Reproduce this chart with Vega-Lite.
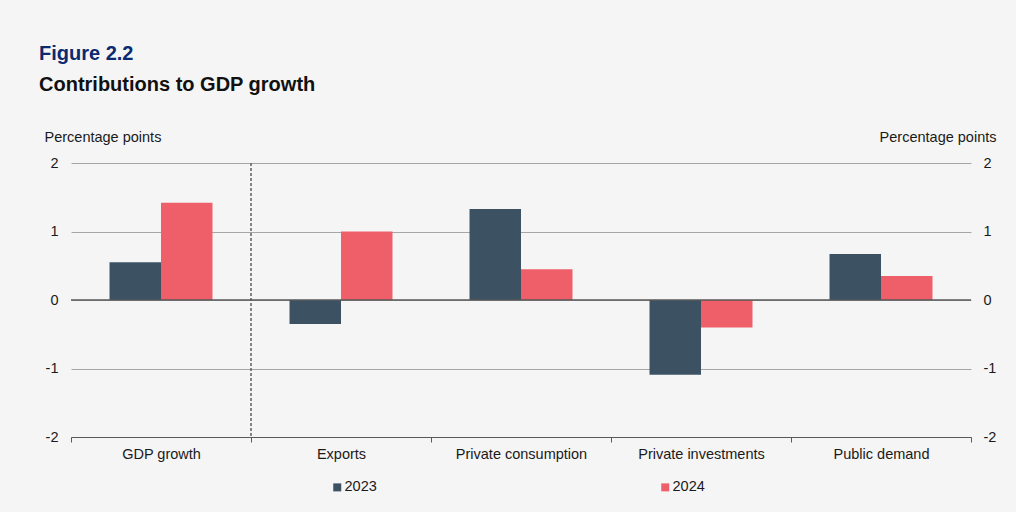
{
  "$schema": "https://vega.github.io/schema/vega-lite/v6.json",
  "autosize": {"type": "none"},
  "width": 900,
  "height": 274,
  "padding": {"left": 71, "top": 163, "right": 45, "bottom": 75},
  "background": "#f5f5f5",
  "config": {
    "font": "Liberation Sans",
    "view": {"stroke": null},
    "axis": {"labelFont": "Liberation Sans", "titleFont": "Liberation Sans", "labelColor": "#1a1a1a", "titleColor": "#1a1a1a"}
  },
  "title": {
    "text": "Figure 2.2",
    "subtitle": "Contributions to GDP growth",
    "anchor": "start",
    "frame": "group",
    "dx": -32,
    "dy": 190,
    "fontSize": 20,
    "fontWeight": "bold",
    "color": "#0b2a6f",
    "subtitleFontSize": 20,
    "subtitleFontWeight": "bold",
    "subtitleColor": "#111111",
    "subtitlePadding": 11,
    "offset": 0
  },
  "data": {
    "values": [
      {"category": "GDP growth", "year": "2023", "value": 0.55},
      {"category": "GDP growth", "year": "2024", "value": 1.42},
      {"category": "Exports", "year": "2023", "value": -0.35},
      {"category": "Exports", "year": "2024", "value": 1.0},
      {"category": "Private consumption", "year": "2023", "value": 1.33},
      {"category": "Private consumption", "year": "2024", "value": 0.45},
      {"category": "Private investments", "year": "2023", "value": -1.09},
      {"category": "Private investments", "year": "2024", "value": -0.4},
      {"category": "Public demand", "year": "2023", "value": 0.67},
      {"category": "Public demand", "year": "2024", "value": 0.35}
    ]
  },
  "layer": [
    {
      "mark": {"type": "bar"},
      "encoding": {
        "x": {
          "field": "category", "type": "nominal",
          "scale": {"domain": ["GDP growth", "Exports", "Private consumption", "Private investments", "Public demand"], "paddingInner": 0, "paddingOuter": 0},
          "axis": {
            "title": null, "labelAngle": 0, "labelFontSize": 14.5, "labelPadding": 5,
            "tickBand": "extent", "tickSize": 5, "tickColor": "#595959", "domainColor": "#595959",
            "grid": false
          }
        },
        "xOffset": {"field": "year", "type": "nominal", "scale": {"paddingInner": 0, "paddingOuter": 0.748}},
        "y": {
          "field": "value", "type": "quantitative",
          "scale": {"domain": [-2, 2], "nice": false},
          "axis": {
            "orient": "left", "values": [-2, -1, 0, 1, 2], "labelExpr": "'' + datum.value",
            "title": "Percentage points", "titleAngle": 0, "titleAlign": "left", "titleBaseline": "alphabetic",
            "titleX": -27, "titleY": -22, "titleFontSize": 14.5, "titleFontWeight": "normal",
            "labelFontSize": 14.5, "labelPadding": 13, "ticks": false, "domain": false,
            "grid": true, "gridColor": "#a6a6a6"
          }
        },
        "color": {
          "field": "year", "type": "nominal",
          "scale": {"domain": ["2023", "2024"], "range": ["#3c5263", "#ef5f6a"]},
          "legend": {
            "title": null, "orient": "none", "legendX": 259, "legendY": 317,
            "direction": "horizontal", "columns": 2, "columnPadding": 281,
            "symbolType": "square", "symbolSize": 64, "symbolStrokeWidth": 0,
            "labelFontSize": 14.5, "labelColor": "#1a1a1a", "labelOffset": 0
          }
        }
      }
    },
    {
      "mark": {"type": "bar"},
      "encoding": {
        "y": {
          "field": "value", "type": "quantitative",
          "axis": {
            "orient": "right", "values": [-2, -1, 0, 1, 2], "labelExpr": "'' + datum.value",
            "title": "Percentage points", "titleAngle": 0, "titleAlign": "right", "titleBaseline": "alphabetic",
            "titleX": 25, "titleY": -22, "titleFontSize": 14.5, "titleFontWeight": "normal",
            "labelFontSize": 14.5, "labelPadding": 12, "ticks": false, "domain": false, "grid": false
          }
        },
        "opacity": {"value": 0}
      }
    },
    {
      "data": {"values": [{"category": "Exports"}]},
      "mark": {"type": "rule", "color": "#5f5f5f", "strokeDash": [3, 2], "strokeWidth": 1.5},
      "encoding": {"x": {"field": "category", "type": "nominal", "bandPosition": 0}}
    },
    {
      "data": {"values": [{"zero": 0}]},
      "mark": {"type": "rule", "color": "#595959", "strokeWidth": 1.5},
      "encoding": {"y": {"field": "zero", "type": "quantitative", "axis": null}}
    }
  ],
  "resolve": {"scale": {"y": "shared"}, "axis": {"y": "independent"}}
}
